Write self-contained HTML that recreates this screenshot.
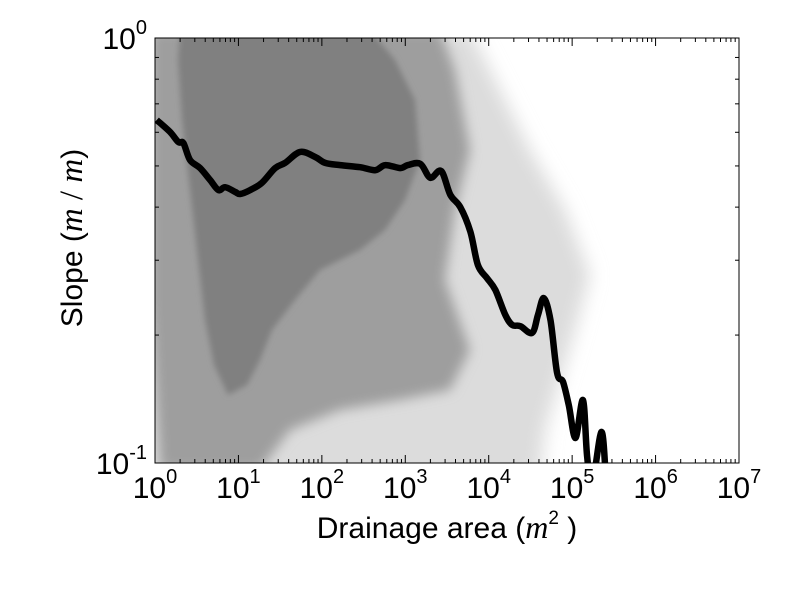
<!DOCTYPE html>
<html><head><meta charset="utf-8"><style>
body{margin:0;background:#fff;width:800px;height:600px;overflow:hidden}
text{font-family:"Liberation Sans",sans-serif;fill:#000}
</style></head><body>
<svg width="800" height="600">
<defs>
<filter id="b0" x="-20%" y="-20%" width="140%" height="140%"><feGaussianBlur stdDeviation="3"/></filter>
<filter id="b1" x="-20%" y="-20%" width="140%" height="140%"><feGaussianBlur stdDeviation="6"/></filter>
<filter id="b2" x="-20%" y="-20%" width="140%" height="140%"><feGaussianBlur stdDeviation="9"/></filter>
<clipPath id="clip"><rect x="155" y="38" width="584" height="425"/></clipPath>
</defs>
<g clip-path="url(#clip)">
<polygon filter="url(#b2)" fill="#dcdcdc" points="140,30 470,30 500,90 530,150 565,210 590,275 575,330 560,380 545,430 540,480 140,480"/>
<polygon filter="url(#b1)" fill="#9e9e9e" points="150,30 440,30 455,70 470,150 455,210 445,280 470,350 450,390 400,400 340,410 290,430 260,470 160,470 150,300"/>
<polygon filter="url(#b0)" fill="#808080" points="180,30 370,30 395,60 415,100 420,160 405,200 385,230 360,250 320,270 295,300 272,330 260,360 247,385 228,395 214,365 205,320 198,260 190,190 182,120 178,60"/>
</g>
<g id="line" clip-path="url(#clip)"></g>
<rect x="155" y="38" width="584" height="425" fill="none" stroke="#000" stroke-width="1"/>
<g id="ticks"></g>
<text x="447" y="538" font-size="30" text-anchor="middle">Drainage area (<tspan font-family="Liberation Serif" font-style="italic" font-size="32">m</tspan><tspan font-size="19" dy="-14">2</tspan><tspan dy="14"> )</tspan></text>
<text transform="translate(82,238) rotate(-90)" font-size="30" text-anchor="middle">Slope (<tspan font-family="Liberation Serif" font-style="italic" font-size="33">m</tspan><tspan font-family="Liberation Serif" font-size="33"> / </tspan><tspan font-family="Liberation Serif" font-style="italic" font-size="33">m</tspan>)</text>
</svg>
<script>
const logArea=[0.02,0.18,0.28,0.34,0.42,0.54,0.66,0.76,0.84,0.96,1.02,1.14,1.28,1.44,1.56,1.74,1.92,2.04,2.22,2.46,2.64,2.76,2.94,3.03,3.18,3.30,3.43,3.54,3.66,3.78,3.87,3.98,4.08,4.20,4.28,4.38,4.52,4.59,4.66,4.74,4.82,4.89,4.96,5.04,5.13,5.18,5.24,5.35,5.40];
const logSlope=[-0.193,-0.221,-0.245,-0.247,-0.287,-0.306,-0.334,-0.358,-0.351,-0.362,-0.367,-0.358,-0.341,-0.306,-0.294,-0.268,-0.280,-0.294,-0.299,-0.304,-0.311,-0.299,-0.306,-0.299,-0.296,-0.329,-0.313,-0.369,-0.398,-0.456,-0.534,-0.565,-0.593,-0.652,-0.675,-0.678,-0.694,-0.652,-0.612,-0.664,-0.788,-0.809,-0.864,-0.941,-0.852,-0.986,-1.05,-0.927,-1.02];
const xTickExp=[0,1,2,3,4,5,6,7];
const yTickExp=[-1,0];
const X0=155,X1=739,Y0=463,Y1=38;
const sx=v=>X0+(v-0)/(7-0)*(X1-X0);
const sy=v=>Y0+(v+1)/(1)*(Y1-Y0);
const NS='http://www.w3.org/2000/svg';
const lg=document.getElementById('line');
const pts=logArea.map((a,i)=>[sx(a),sy(logSlope[i])]);
let d='M'+pts[0][0].toFixed(1)+','+pts[0][1].toFixed(1);
for(let i=0;i<pts.length-1;i++){
  const p0=pts[Math.max(0,i-1)],p1=pts[i],p2=pts[i+1],p3=pts[Math.min(pts.length-1,i+2)];
  const c1=[p1[0]+(p2[0]-p0[0])/6,p1[1]+(p2[1]-p0[1])/6];
  const c2=[p2[0]-(p3[0]-p1[0])/6,p2[1]-(p3[1]-p1[1])/6];
  d+='C'+c1[0].toFixed(1)+','+c1[1].toFixed(1)+' '+c2[0].toFixed(1)+','+c2[1].toFixed(1)+' '+p2[0].toFixed(1)+','+p2[1].toFixed(1);
}
const p=document.createElementNS(NS,'path');
p.setAttribute('d',d);p.setAttribute('fill','none');p.setAttribute('stroke','#000');
p.setAttribute('stroke-width','6.5');p.setAttribute('stroke-linejoin','round');


lg.appendChild(p);
const tg=document.getElementById('ticks');
function ln(x1,y1,x2,y2){const l=document.createElementNS(NS,'line');l.setAttribute('x1',x1);l.setAttribute('y1',y1);l.setAttribute('x2',x2);l.setAttribute('y2',y2);l.setAttribute('stroke','#000');l.setAttribute('stroke-width','1');


tg.appendChild(l);}
xTickExp.forEach(e=>{
  const x=sx(e);ln(x,Y0,x,Y0-8);ln(x,Y1,x,Y1+8);
  if(e<7)for(let k=2;k<10;k++){const xm=sx(e+Math.log10(k));ln(xm,Y0,xm,Y0-4);ln(xm,Y1,xm,Y1+4);}
  const t=document.createElementNS(NS,'text');t.setAttribute('x',x);t.setAttribute('y',Y0+35);t.setAttribute('font-size','30');t.setAttribute('text-anchor','middle');
  t.innerHTML='10<tspan font-size="20" dy="-15">'+e+'</tspan>';
  
  
  tg.appendChild(t);
});
yTickExp.forEach(e=>{
  const y=sy(e);ln(X0,y,X0+8,y);ln(X1,y,X1-8,y);
  const t=document.createElementNS(NS,'text');t.setAttribute('x',X0-8);t.setAttribute('y',y+11);t.setAttribute('font-size','30');t.setAttribute('text-anchor','end');
  t.innerHTML='10<tspan font-size="20" dy="-15">'+e+'</tspan>';
  
  
  tg.appendChild(t);
});
for(let k=2;k<10;k++){const y=sy(-1+Math.log10(k));ln(X0,y,X0+4,y);ln(X1,y,X1-4,y);}
</script>
</body></html>
